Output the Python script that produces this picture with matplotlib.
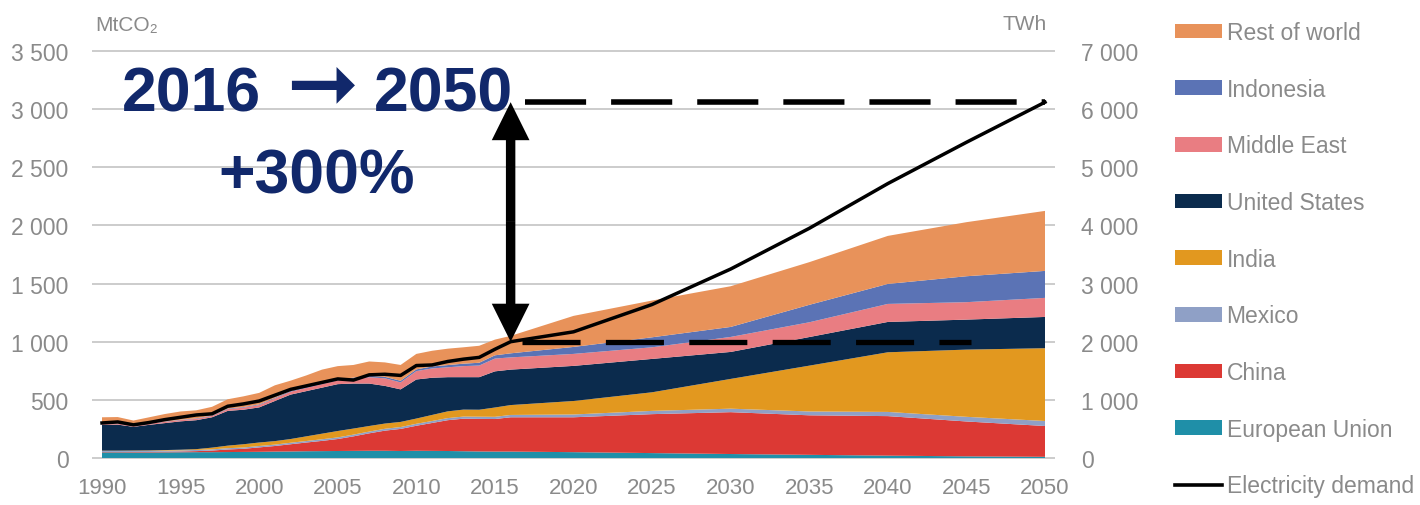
import matplotlib
matplotlib.use("Agg")
import matplotlib.pyplot as plt
from matplotlib import font_manager
from matplotlib.patches import Patch, FancyArrow
from matplotlib.lines import Line2D

# ---- data -------------------------------------------------------------
years = list(range(1990, 2017)) + [2020, 2025, 2030, 2035, 2040, 2045, 2050]

european_union = [48, 48, 47, 47, 48, 49, 50, 50, 51, 52, 53, 55, 56, 58, 59, 60, 61, 62, 62, 60,
                  62, 61, 60, 58, 56, 55, 55, 50, 42, 34, 27, 20, 14, 10]
china = [4, 4, 5, 5, 6, 7, 9, 14, 22, 27, 38, 48, 62, 75, 88, 103, 125, 150, 173, 190,
         215, 240, 265, 280, 280, 280, 295, 300, 335, 360, 340, 340, 300, 265]
mexico = [8, 8, 8, 9, 9, 9, 10, 10, 11, 11, 12, 12, 13, 13, 14, 14, 15, 15, 16, 16,
          17, 17, 18, 18, 19, 19, 20, 24, 28, 30, 33, 36, 40, 43]
india = [3, 3, 4, 4, 5, 6, 7, 15, 22, 28, 30, 30, 32, 40, 48, 55, 52, 48, 45, 44,
         45, 52, 58, 60, 60, 80, 85, 116, 160, 256, 394, 513, 578, 626]
united_states = [222, 224, 204, 220, 232, 244, 249, 261, 299, 297, 302, 345, 382, 389, 396, 403,
                 387, 365, 324, 280, 336, 320, 294, 279, 280, 311, 305,
                 302, 287, 232, 246, 261, 258, 269]
middle_east = [10, 10, 10, 10, 11, 11, 12, 12, 15, 18, 20, 22, 25, 28, 30, 32, 40, 55, 65, 60,
               72, 80, 85, 95, 100, 110, 105, 103, 100, 129, 127, 155, 150, 164]
indonesia = [2, 2, 2, 3, 3, 3, 4, 4, 5, 5, 6, 6, 7, 8, 9, 10, 11, 12, 13, 14,
             15, 17, 19, 21, 24, 28, 35, 60, 86, 86, 150, 172, 223, 232]
rest_of_world = [53, 53, 42, 52, 64, 71, 69, 74, 80, 92, 99, 107, 88, 99, 116, 113, 109, 123, 124, 136,
                 133, 135, 141, 141, 146, 135, 150, 267, 316, 350, 367, 413, 465, 516]

electricity_demand = [602, 620, 570, 610, 660, 700, 740, 760, 890, 930, 980, 1080, 1180, 1240, 1300,
                      1360, 1340, 1430, 1440, 1420, 1590, 1600, 1660, 1700, 1730, 1870, 2000,
                      2170, 2640, 3250, 3950, 4720, 5430, 6120]

series_labels = ["European Union", "China", "Mexico", "India", "United States",
                 "Middle East", "Indonesia", "Rest of world"]
series_colors = ["#1f8fa8", "#dc3934", "#8fa0c6", "#e2981f", "#0b2b4d",
                 "#e97d82", "#5b73b5", "#e8925a"]

left_ticks = [0, 500, 1000, 1500, 2000, 2500, 3000, 3500]
right_ticks = [0, 1000, 2000, 3000, 4000, 5000, 6000, 7000]
x_ticks = list(range(1990, 2051, 5))

start_year, end_year = 2016, 2050

# ---- fonts ------------------------------------------------------------
available = {f.name for f in font_manager.fontManager.ttflist}
base_font = "Liberation Sans" if "Liberation Sans" in available else "DejaVu Sans"
narrow_font = "Liberation Sans Narrow" if "Liberation Sans Narrow" in available else base_font
plt.rcParams["font.family"] = [base_font, "DejaVu Sans"]

grey_text = "#8a8a8a"
navy = "#11286b"

W, H = 1420, 506
fig = plt.figure(figsize=(W / 100, H / 100), dpi=100)

def fx(px):
    return px / W

def fy(py):
    return 1 - py / H

ax = fig.add_axes([fx(92), fy(461.3), fx(1055) - fx(92), fy(49.7) - fy(461.3)])
ax2 = ax.twinx()

stack = [european_union, china, mexico, india, united_states, middle_east, indonesia, rest_of_world]
ax.stackplot(years, *stack, colors=series_colors, linewidth=0, zorder=2)

ax.set_xlim(1990 - 10 / 15.717, 2050 + 10 / 15.717)
ax.set_ylim(-20, 3520)
ax2.set_ylim(-40, 7040)

ax.set_yticks(left_ticks)
ax.set_yticklabels([f"{v:,}".replace(",", " ") for v in left_ticks])
ax2.set_yticks(right_ticks)
ax2.set_yticklabels([f"{v:,}".replace(",", " ") for v in right_ticks])
ax.set_xticks(x_ticks)
ax.set_xticklabels([str(v) for v in x_ticks], fontfamily=narrow_font)

ax.grid(axis="y", color="#c8c8c8", linewidth=1.3, zorder=0)
ax.set_axisbelow(True)
for a in (ax, ax2):
    for s in a.spines.values():
        s.set_visible(False)
ax.tick_params(axis="y", length=0, pad=17, labelsize=16.5, labelcolor=grey_text)
ax.tick_params(axis="x", length=0, pad=12, labelsize=18 if narrow_font != base_font else 16,
               labelcolor=grey_text)
ax2.tick_params(axis="y", length=0, pad=19, labelsize=16.5, labelcolor=grey_text)

# electricity demand on the right-hand axis
ax2.plot(years, electricity_demand, color="black", linewidth=2.5, zorder=5)

# dashed reference levels for demand in 2016 and 2050
d_start = electricity_demand[years.index(start_year)]
d_end = electricity_demand[years.index(end_year)]
ax2.plot([2016.9, 2050], [d_end, d_end], color="black", linewidth=4,
         dashes=(11, 4.5), zorder=6)
ax2.plot([2016.7, 2045.3], [d_start, d_start], color="black", linewidth=3.8,
         dashes=(11, 4.8), zorder=6)

# double-headed arrow between the two demand levels
mid = (d_start + d_end) / 2
head_len = 38 / 0.05814
for tip in (d_end, d_start):
    ax2.add_patch(FancyArrow(start_year, mid, 0, tip - mid, width=0.6,
                             head_width=2.4, head_length=head_len,
                             length_includes_head=True, color="black",
                             linewidth=0, zorder=7))

# headline annotations
fig.text(fx(122), fy(111), "2016", fontsize=45, fontweight="bold", color=navy,
         ha="left", va="baseline")
fig.text(fx(322), fy(88), "\u279e", fontsize=62, fontweight="bold", color=navy,
         ha="center", va="center", family=["DejaVu Sans"])
fig.text(fx(513), fy(111), "2050", fontsize=45, fontweight="bold", color=navy,
         ha="right", va="baseline")
fig.text(fx(218), fy(193), "+300%", fontsize=45, fontweight="bold", color=navy,
         ha="left", va="baseline")

# axis units
fig.text(fx(95), fy(31), "MtCO\u2082", fontsize=15, color=grey_text, ha="left",
         va="baseline", family=[base_font, "DejaVu Sans"])
fig.text(fx(1047), fy(30), "TWh", fontsize=15, color=grey_text, ha="right", va="baseline")

# legend
handles = [Patch(facecolor=c, edgecolor="none", label=l)
           for l, c in zip(series_labels[::-1], series_colors[::-1])]
handles.append(Line2D([], [], color="black", linewidth=2.6, label="Electricity demand"))
leg = fig.legend(handles=handles, loc="upper left", bbox_to_anchor=(fx(1175), fy(22)),
                 frameon=False, fontsize=16.5, labelcolor=grey_text, handlelength=2.05,
                 handleheight=0.6, handletextpad=0.2, labelspacing=1.47,
                 borderpad=0, borderaxespad=0)

fig.savefig("out.png", dpi=100)
